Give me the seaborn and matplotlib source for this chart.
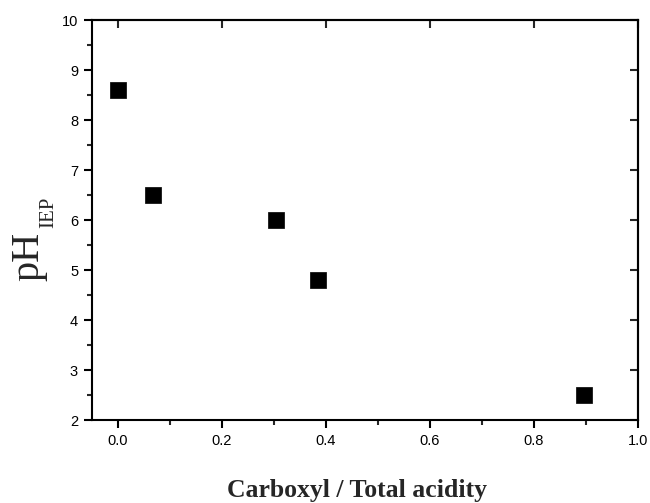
import matplotlib
matplotlib.use("Agg")
import matplotlib.pyplot as plt
import seaborn as sns
import pandas as pd
from matplotlib.ticker import MultipleLocator, NullLocator

ratio = [0.0, 0.067, 0.304, 0.385, 0.896]
ph_iep = [8.6, 6.5, 6.0, 4.8, 2.5]
xticks = [0.0, 0.2, 0.4, 0.6, 0.8, 1.0]
yticks = [2, 3, 4, 5, 6, 7, 8, 9, 10]
xlabel = "Carboxyl / Total acidity"
ylabel_main = "pH"
ylabel_sub = "IEP"

sns.set_theme(style="white")
plt.rcParams['font.family'] = ['Liberation Sans', 'DejaVu Sans']

df = pd.DataFrame({"ratio": ratio, "ph": ph_iep})

W, H = 650, 503
fig = plt.figure(figsize=(6.5, 5.03), dpi=100)
ax = fig.add_axes([0.1415, 0.165, 0.84, 0.795])
sns.scatterplot(data=df, x="ratio", y="ph", marker="s", s=120, color="black",
                edgecolor="black", linewidth=0.5, ax=ax, legend=False, zorder=3)

ax.set_xlim(-0.05, 1.0)
ax.set_ylim(2, 10)
ax.set_xticks(xticks)
ax.set_xticklabels([f"{v:.1f}" for v in xticks])
ax.set_yticks(yticks)
ax.set_yticklabels([str(v) for v in yticks])
ax.xaxis.set_minor_locator(MultipleLocator(0.1))
ax.yaxis.set_minor_locator(MultipleLocator(0.5))

for s in ax.spines.values():
    s.set_linewidth(1.5)
    s.set_color("black")
    s.set_visible(True)

ax.tick_params(axis="both", which="major", direction="out", length=6, width=1.5,
               labelsize=10.5, colors="black", bottom=True, left=True, pad=4)
ax.tick_params(axis="both", which="minor", direction="out", length=3.5, width=1.5,
               bottom=True, left=True)

secx = ax.secondary_xaxis("top")
secx.set_xticks(xticks)
secx.xaxis.set_minor_locator(NullLocator())
secx.tick_params(direction="in", length=6, width=1.5, labeltop=False)
secx.spines["top"].set_linewidth(1.5)
secy = ax.secondary_yaxis("right")
secy.set_yticks(yticks)
secy.yaxis.set_minor_locator(NullLocator())
secy.tick_params(direction="in", length=6, width=1.5, labelright=False)
secy.spines["right"].set_linewidth(1.5)

ax.set_xlabel(xlabel, family=["Liberation Serif"], fontsize=18.5, fontweight="bold")
ax.xaxis.set_label_coords(0.485, -0.147)
ax.set_ylabel("")

# y label: pH with subscript IEP, placed as rotated text
fig.text(38.5 / W, 1 - 281 / H, ylabel_main, family=["Liberation Serif"], fontsize=29,
         rotation=90, rotation_mode="anchor", ha="left", va="baseline")
fig.text(53 / W, 1 - 228 / H, ylabel_sub, family=["Liberation Serif"], fontsize=15,
         rotation=90, rotation_mode="anchor", ha="left", va="baseline")

fig.savefig("out.png", dpi=100, facecolor="white")
